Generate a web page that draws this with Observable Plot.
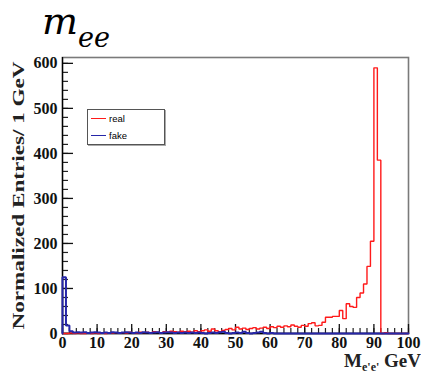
<!DOCTYPE html>
<html>
<head>
<meta charset="utf-8">
<script src="https://cdn.jsdelivr.net/npm/d3@7"></script>
<script src="https://cdn.jsdelivr.net/npm/@observablehq/plot@0.6"></script>
<style>
  html, body { margin: 0; padding: 0; background: #fff; }
  #wrap { position: relative; width: 421px; height: 376px; overflow: hidden; }
  #wrap svg { position: absolute; left: 0; top: 0; }
  .title { position: absolute; left: 42px; top: 2px; line-height: 38px; font-family: "DejaVu Serif", serif; font-style: italic; font-size: 38px; color: #000; white-space: nowrap; }
  .title sub { font-size: 27px; vertical-align: -13px; line-height: 0; }
  .xtitle { position: absolute; right: 0px; top: 352px; line-height: 18px; font-family: "Liberation Serif", serif; font-weight: bold; font-size: 19px; color: #222; white-space: nowrap; }
  .xtitle sub { font-size: 12px; vertical-align: -4px; line-height: 0; }
  .legend { position: absolute; left: 87px; top: 109px; width: 76px; height: 34px; border: 1.5px solid #555; box-shadow: 1px 1px 0 #aaa; background: #fff; font-family: "Liberation Sans", sans-serif; font-size: 9.5px; }
  .legend .row { position: absolute; left: 3px; height: 12px; display: flex; align-items: center; }
  .legend .sw { width: 15px; height: 0; border-top: 1.5px solid; margin-right: 3px; }
</style>
</head>
<body>
<div id="wrap"></div>
<script>
// Di-electron invariant mass, 1 GeV bins from 0 to 100 GeV (lower bin edges)
const binEdges = d3.range(0, 100);

// Normalized entries per bin, "real" electron pairs
const realCounts = [
  0, 0, 1, 0, 1, 0, 0, 1, 0, 1,
  0, 1, 0, 2, 1, 2, 1, 2, 1, 3,
  2, 1, 3, 2, 3, 2, 4, 3, 2, 4,
  3, 5, 4, 3, 5, 4, 5, 3, 6, 4,
  6, 8, 5, 10, 6, 4, 7, 9, 11, 8,
  14, 10, 12, 9, 11, 13, 10, 12, 14, 11,
  15, 13, 16, 14, 17, 15, 19, 16, 14, 18,
  16, 22, 24, 17, 18, 25, 36, 36, 38, 38,
  51, 33, 66, 60, 58, 80, 90, 110, 149, 205,
  590, 385, 0, 2, 0, 0, 0, 0, 0, 0
];

// Normalized entries per bin, "fake" electron pairs
const fakeCounts = [
  125, 18, 5, 2, 3, 2, 3, 1, 2, 3,
  2, 1, 2, 1, 3, 2, 1, 2, 3, 2,
  1, 2, 1, 3, 2, 1, 2, 3, 1, 2,
  3, 2, 1, 2, 1, 2, 1, 2, 1, 2,
  1, 0, 1, 2, 1, 3, 4, 1, 0, 1,
  2, 1, 4, 1, 0, 1, 2, 4, 1, 0,
  1, 0, 0, 0, 0, 0, 0, 0, 0, 0,
  0, 0, 0, 0, 0, 0, 0, 0, 0, 0,
  0, 0, 0, 0, 0, 0, 0, 0, 0, 0,
  0, 0, 0, 0, 0, 0, 0, 0, 0, 0
];

// Axis ticks
const xMajor = d3.range(0, 101, 10);
const xMinor = d3.range(0, 101, 2);
const yMajor = d3.range(0, 601, 100);
const yMinor = d3.range(0, 601, 20);
const yTitle = "Normalized Entries/ 1 GeV";

const series = [
  { name: "real", counts: realCounts, color: "#ff1a1a", width: 1.4 },
  { name: "fake", counts: fakeCounts, color: "#2626a8", width: 2 }
];

// Histogram outline: rise from the baseline, step across each bin, drop at the end
function outline(counts) {
  const pts = [{ x: binEdges[0], y: 0 }];
  binEdges.forEach((e, i) => pts.push({ x: e, y: counts[i] }));
  pts.push({ x: binEdges[binEdges.length - 1] + 1, y: counts[counts.length - 1] });
  pts.push({ x: binEdges[binEdges.length - 1] + 1, y: 0 });
  return pts;
}

const W = 421, H = 376;
const mL = 62, mR = 13, mT = 57, mB = 43;
const frameW = W - mL - mR, frameH = H - mT - mB;
const serif = "Liberation Serif";

const chart = Plot.plot({
  width: W,
  height: H,
  marginLeft: mL,
  marginRight: mR,
  marginTop: mT,
  marginBottom: mB,
  style: { fontFamily: serif, background: "transparent", overflow: "visible" },
  x: { domain: [0, 100], axis: null },
  y: { domain: [0, 613], axis: null },
  marks: [
    Plot.frame({ stroke: "#7a7a7a", strokeWidth: 1.6 }),
    // inward ticks along the bottom axis
    Plot.ruleX(xMinor, { x: d => d, insetTop: frameH - 5, stroke: "#222", strokeWidth: 1.2 }),
    Plot.ruleX(xMajor, { x: d => d, insetTop: frameH - 9, stroke: "#111", strokeWidth: 1.3 }),
    // inward ticks along the left axis
    Plot.ruleY(yMinor, { y: d => d, insetRight: frameW - 6, stroke: "#222", strokeWidth: 1.2 }),
    Plot.ruleY(yMajor, { y: d => d, insetRight: frameW - 11, stroke: "#111", strokeWidth: 1.3 }),
    Plot.ruleX([0], { stroke: "#000", strokeWidth: 1.3 }),
    Plot.ruleY([0], { stroke: "#000", strokeWidth: 1.3 }),
    ...series.map(s => Plot.line(outline(s.counts), {
      x: "x", y: "y", curve: "step-after",
      stroke: s.color, strokeWidth: s.width, strokeLinejoin: "miter"
    })),
    Plot.axisX({ ticks: xMajor, tickSize: 0, tickPadding: 3, label: null,
      fontSize: 16, fontWeight: "bold", fontFamily: serif, fill: "#111" }),
    Plot.axisY({ ticks: yMajor, tickSize: 0, tickPadding: 5, label: null,
      fontSize: 16, fontWeight: "bold", fontFamily: serif, fill: "#111" }),
    Plot.text([yTitle], {
      text: d => d, frameAnchor: "left", textAnchor: "middle", rotate: -90, dx: -44,
      fontSize: 16, fontWeight: "bold", fontFamily: serif, fill: "#222"
    })
  ]
});

// The axis title is set in a tall, condensed face along its run
d3.select(chart).selectAll("text")
  .filter(function () { return this.textContent === yTitle; })
  .attr("textLength", 268)
  .attr("lengthAdjust", "spacingAndGlyphs");

const wrap = document.getElementById("wrap");
wrap.appendChild(chart);

const title = document.createElement("div");
title.className = "title";
title.innerHTML = "m<sub>ee</sub>";
wrap.appendChild(title);

const xt = document.createElement("div");
xt.className = "xtitle";
xt.innerHTML = "M<sub>e'e'</sub> GeV";
wrap.appendChild(xt);

const legend = document.createElement("div");
legend.className = "legend";
series.forEach((s, i) => {
  const row = document.createElement("div");
  row.className = "row";
  row.style.top = (2 + i * 17) + "px";
  const sw = document.createElement("span");
  sw.className = "sw";
  sw.style.borderColor = s.color;
  row.appendChild(sw);
  row.appendChild(document.createTextNode(s.name));
  legend.appendChild(row);
});
wrap.appendChild(legend);
</script>
</body>
</html>
